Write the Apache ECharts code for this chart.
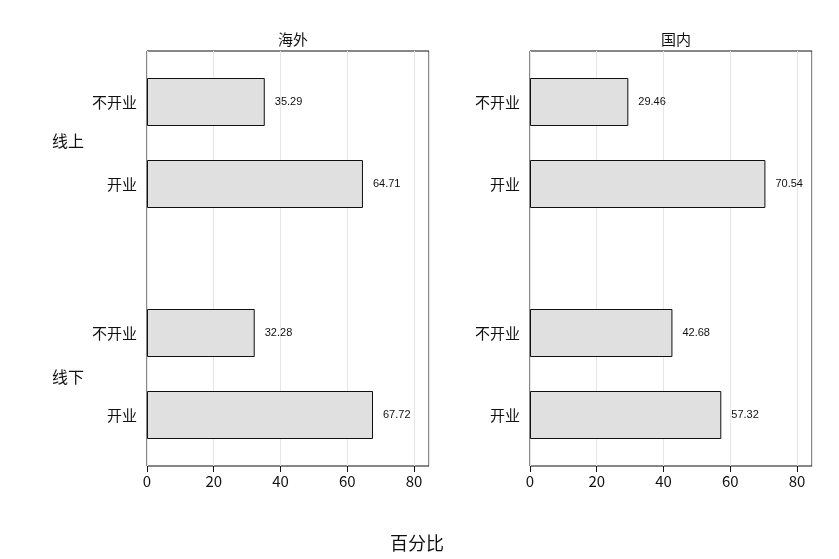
<!DOCTYPE html><html><head><meta charset="utf-8"><script src="https://cdn.jsdelivr.net/npm/echarts@6/dist/echarts.min.js"></script></head><body style="margin:0"><div id="c" style="width:839px;height:559px"></div><script>
const categories=['不开业','开业'];
const groups=['线上','线下'];
const panels=['海外','国内'];
const overseasOnline=[35.29,64.71];
const overseasOffline=[32.28,67.72];
const domesticOnline=[29.46,70.54];
const domesticOffline=[42.68,57.32];
const xTicks=[0,20,40,60,80];
const values=[[overseasOnline,overseasOffline],[domesticOnline,domesticOffline]];
const font='"Noto Sans CJK SC","Noto Sans",sans-serif';
const lefts=[147,530], W=282, MAX=84.5;
const grid=[],xAxis=[],yAxis=[],series=[],title=[];
panels.forEach((p,pi)=>{
  grid.push({left:lefts[pi],width:W,top:51,height:415,show:true,borderColor:'#111',borderWidth:1,backgroundColor:'transparent'});
  const fi=xAxis.length;
  xAxis.push({gridIndex:fi,type:'value',min:0,max:MAX,axisLine:{show:false},
    axisTick:{show:true,length:6,lineStyle:{color:'#111'},customValues:xTicks},
    axisLabel:{fontSize:15,color:'#111',fontFamily:font,customValues:xTicks},
    splitLine:{show:false}});
  yAxis.push({gridIndex:fi,type:'value',show:false});
  title.push({text:p,left:lefts[pi]+W/2,top:27,textAlign:'center',textStyle:{fontSize:15,fontWeight:'normal',color:'#111',fontFamily:font}});
  [61,292].forEach((top,gi)=>{
    const idx=grid.length;
    grid.push({left:lefts[pi],width:W,top:top,height:164});
    xAxis.push({gridIndex:idx,type:'value',min:0,max:MAX,axisLine:{show:false},axisTick:{show:false},axisLabel:{show:false},splitLine:{show:false}});
    yAxis.push({gridIndex:idx,type:'category',inverse:true,data:categories,axisLine:{show:false},axisTick:{show:false},
      axisLabel:{fontSize:15,color:'#111',fontFamily:font,margin:10}});
    series.push({type:'bar',xAxisIndex:idx,yAxisIndex:idx,data:values[pi][gi],barWidth:48,
      itemStyle:{color:'#e0e0e0',borderColor:'#111',borderWidth:1},
      label:{show:true,position:'right',distance:10,fontSize:11,color:'#111',formatter:d=>d.value.toFixed(2)}});
  });
  // gridlines spanning whole panel
  const gi2=grid.length;
  grid.push({left:lefts[pi],width:W,top:51,height:415,z:-1});
  xAxis.push({gridIndex:gi2,type:'value',min:0,max:MAX,axisLine:{show:false},axisTick:{show:false},axisLabel:{show:false},
    splitLine:{show:true,lineStyle:{color:'#e6e6e6'},customValues:xTicks.slice(1)}});
  yAxis.push({gridIndex:gi2,type:'value',show:false});
});
const chart=echarts.init(document.getElementById('c'));
chart.setOption({animation:false,title,grid,xAxis,yAxis,series,
  graphic:[
    {type:'text',left:52,top:133,style:{text:groups[0],fill:'#111',font:'16px '+font}},
    {type:'text',left:52,top:369,style:{text:groups[1],fill:'#111',font:'16px '+font}},
    {type:'text',left:390,top:534,style:{text:'百分比',fill:'#111',font:'18px '+font}}
  ]});
</script></body></html>
